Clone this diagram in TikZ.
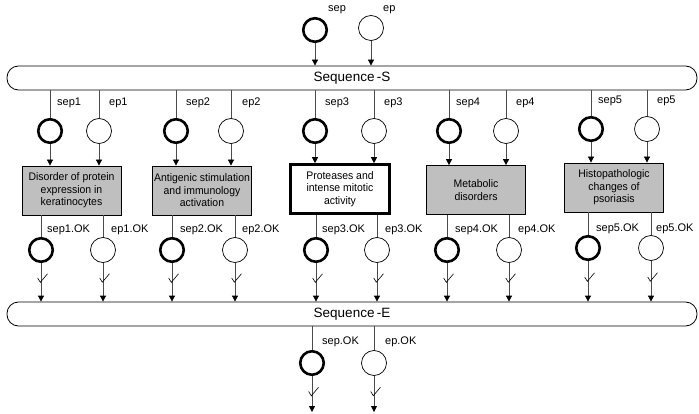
\documentclass[tikz,border=0pt]{standalone}
\usepackage{fontspec}
\setmainfont{Liberation Sans}
\newfontfamily\boxfont[FakeStretch=0.95]{Liberation Sans}
\usetikzlibrary{arrows.meta,calc}
\begin{document}
\begin{tikzpicture}[x=1pt,y=-1pt,
  ln/.style={draw=black!70, line width=0.8pt},
  arr/.style={ln, -{Triangle[length=6pt,width=6pt,color=black]}},
  thk/.style={circle, draw, line width=2.6pt, minimum size=23.5pt, inner sep=0pt},
  thn/.style={circle, draw, line width=0.7pt, minimum size=25pt, inner sep=0pt},
  band/.style={draw, line width=0.8pt, rounded corners=11.5pt, minimum width=690pt, minimum height=24pt, inner sep=0pt, font=\fontsize{13.5}{15}\selectfont},
  box/.style={draw, fill=black!25, line width=0.8pt, minimum width=99pt, minimum height=49pt, align=center, font=\boxfont\fontsize{11}{12.5}\selectfont, inner sep=0pt},
  lbl/.style={anchor=west, inner sep=0pt, font=\fontsize{11}{12}\selectfont},
  chk/.pic={\draw[line width=0.6pt, black] (-3.3,-4.3) -- (-0.7,0) -- (6.5,-8.5);}
]
\useasboundingbox (0,0) rectangle (699,414);

\node[band] (seqS) at (352,78) {Sequence\,-S};
\node[band] (seqE) at (352,314) {Sequence\,-E};

\node[thk] (sep) at (315,30) {};
\node[thn] (ep) at (371,28) {};
\node[lbl] (lsep) at (328,10) {sep};
\node[lbl] (lep) at (383,10) {ep};
\draw[arr] (sep) -- (sep |- seqS.north);
\draw[arr] (ep) -- (ep |- seqS.north);

\node[box] (b1) at (71.5,190.5) {Disorder of protein\\expression in\\keratinocytes};
\node[box] (b2) at (202,190.5) {Antigenic stimulation\\and immunology\\activation};
\node[box, fill=white, line width=2.6pt] (b3) at (340,189) {Proteases and\\intense mitotic\\activity};
\node[box] (b4) at (476,190) {Metabolic\\disorders};
\node[box] (b5) at (614,187.5) {Histopathologic\\changes of\\psoriasis};

\foreach \i/\xs/\xe/\yt/\xso/\xeo/\yb/\ls/\le/\lso/\leo/\ly/\lyo in {
1/50/99/131/41/103/250/57/109/47/111/103/230,
2/176/231/131/172/235/250/186/242/180/242/103/230,
3/315/374/131/316/377/250/325/384/322/385/103/230,
4/449/506/131/447/509/250/456/516/455/518/103/230,
5/591/647/129/588/651/248/598/657/596/656/101/229}{
  \node[thk] (s\i) at (\xs,\yt) {};
  \node[thn] (e\i) at (\xe,\yt) {};
  \node[thk] (so\i) at (\xso,\yb) {};
  \node[thn] (eo\i) at (\xeo,\yb) {};
  \node[lbl] (ls\i) at (\ls,\ly) {sep\i};
  \node[lbl] (le\i) at (\le,\ly) {ep\i};
  \node[lbl] (lso\i) at (\lso,\lyo) {sep\i.OK};
  \node[lbl] (leo\i) at (\leo,\lyo) {ep\i.OK};
  \draw[ln] (s\i |- seqS.south) -- (s\i);
  \draw[ln] (e\i |- seqS.south) -- (e\i);
  \draw[arr] (s\i) -- (s\i |- b\i.north);
  \draw[arr] (e\i) -- (e\i |- b\i.north);
  \draw[ln] (so\i |- b\i.south) -- (so\i);
  \draw[ln] (eo\i |- b\i.south) -- (eo\i);
  \draw[arr] (so\i) -- (so\i |- seqE.north);
  \draw[arr] (eo\i) -- (eo\i |- seqE.north);
  \coordinate (ks\i) at ($(so\i.south)!0.5!(so\i |- seqE.north)$);
  \coordinate (ke\i) at ($(eo\i.south)!0.5!(eo\i |- seqE.north)$);
  \pic at (ks\i) {chk};
  \pic at (ke\i) {chk};
}

\node[thk] (sepok) at (312,363) {};
\node[thn] (epok) at (374,363) {};
\node[lbl] (lsepok) at (322,342) {sep.OK};
\node[lbl] (lepok) at (385,342) {ep.OK};
\coordinate (endS) at (312,412);
\coordinate (endE) at (374,412);
\draw[ln] (sepok |- seqE.south) -- (sepok);
\draw[ln] (epok |- seqE.south) -- (epok);
\draw[arr] (sepok) -- (endS);
\draw[arr] (epok) -- (endE);
\coordinate (kS) at ($(sepok.south)!0.55!(endS)$);
\coordinate (kE) at ($(epok.south)!0.55!(endE)$);
\pic at (kS) {chk};
\pic at (kE) {chk};
\end{tikzpicture}
\end{document}
